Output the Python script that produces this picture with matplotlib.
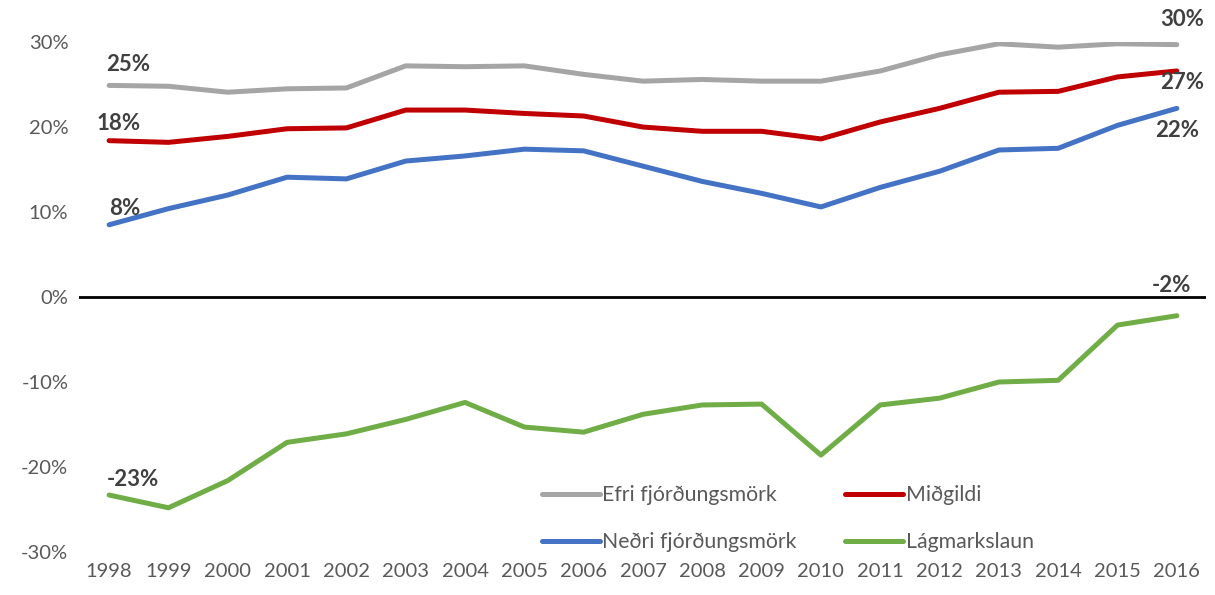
import matplotlib
matplotlib.use("Agg")
import matplotlib.pyplot as plt

years = list(range(1998, 2017))
efri = [24.9, 24.8, 24.1, 24.5, 24.6, 27.2, 27.1, 27.2, 26.2, 25.4, 25.6, 25.4, 25.4, 26.6, 28.5, 29.8, 29.4, 29.8, 29.7]
midgildi = [18.4, 18.2, 18.9, 19.8, 19.9, 22.0, 22.0, 21.6, 21.3, 20.0, 19.5, 19.5, 18.6, 20.6, 22.2, 24.1, 24.2, 25.9, 26.6]
nedri = [8.5, 10.4, 12.0, 14.1, 13.9, 16.0, 16.6, 17.4, 17.2, 15.4, 13.6, 12.2, 10.6, 12.9, 14.8, 17.3, 17.5, 20.2, 22.2]
lagmark = [-23.3, -24.8, -21.6, -17.1, -16.1, -14.4, -12.4, -15.3, -15.9, -13.8, -12.7, -12.6, -18.6, -12.7, -11.9, -10.0, -9.8, -3.3, -2.2]
yticks = [-30, -20, -10, 0, 10, 20, 30]

plt.rcParams['font.family'] = ['Lato', 'DejaVu Sans']

fig = plt.figure(figsize=(12.15, 5.95), dpi=100)
ax = fig.add_axes([0.0654, 0.0723, 0.9276, 0.857])

# label offsets in points for first and last point of each series
series = [
    ("Efri fjórðungsmörk", efri, "#A5A5A5", (14, 15), (4, 18)),
    ("Neðri fjórðungsmörk", nedri, "#4472C4", (11, 12), (0, -16)),
    ("Miðgildi", midgildi, "#C00000", (7, 12), (4, -8)),
    ("Lágmarkslaun", lagmark, "#70AD47", (17, 11), (-4, 22)),
]

ax.axhline(0, color="black", lw=2, zorder=1)
for name, vals, col, off0, off1 in series:
    ax.plot(years, vals, color=col, lw=3.6, label=name, solid_capstyle="round", zorder=3)
    for i, off in ((0, off0), (-1, off1)):
        ax.annotate(f"{round(vals[i]):.0f}%", (years[i], vals[i]), xytext=off,
                    textcoords="offset points", ha="center", va="center",
                    fontsize=16, fontweight="bold", color="#404040", annotation_clip=False)

ax.set_xlim(1997.5, 2016.5)
ax.set_ylim(-30, 30)
ax.set_yticks(yticks)
ax.set_yticklabels([f"{t}%" for t in yticks])
ax.set_xticks(years)
ax.tick_params(length=0, labelsize=14.5, labelcolor="#595959", pad=8)
for s in ax.spines.values():
    s.set_visible(False)

ax.legend(loc="lower left", bbox_to_anchor=(0.393, -0.0375), ncol=2, frameon=False,
          fontsize=15.3, handlelength=2.75, handletextpad=0.1, columnspacing=2.28,
          labelcolor="#595959", labelspacing=1.25)

fig.savefig("out.png", dpi=100)
